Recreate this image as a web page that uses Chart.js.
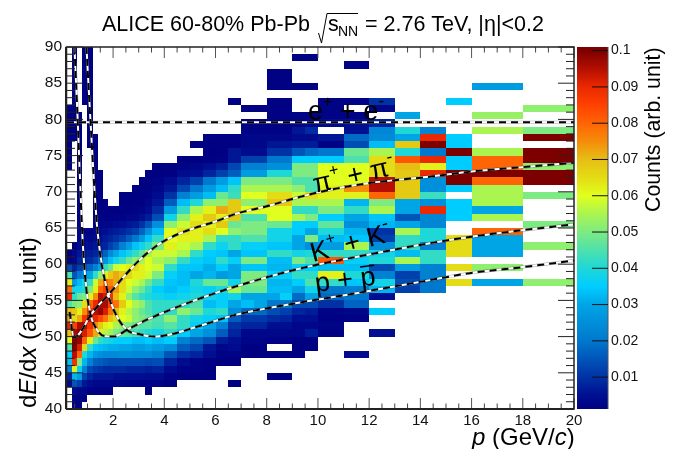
<!DOCTYPE html>
<html><head><meta charset="utf-8">
<style>html,body{margin:0;padding:0;background:#fff}canvas{display:block}</style>
<script src="https://cdn.jsdelivr.net/npm/chart.js@4"></script>
</head><body><canvas id="c" width="684" height="449"></canvas>
<script>
// bin edges
const pEdges=[0.2,0.4,0.6,0.8,1,1.2,1.4,1.6,1.8,2,2.25,2.5,2.75,3,3.25,3.5,4,4.5,5,5.5,6,6.5,7,7.5,8,8.5,9,9.5,10,11,12,13,14,15,16,18,20];
const rowTop=89; // first row spans 89-90, then downward to 40-41
// counts in units of 0.001, one list per dE/dx row, 36 momentum bins, 0 = empty
const rows=[
/*89*/[0,1,0,1,1,0,0,0,0,0,0,0,0,0,0,0,0,0,0,0,0,0,0,0,0,0,0,0,0,0,0,0,0,0,0,0],
/*88*/[0,1,0,1,1,0,0,0,0,0,0,0,0,0,0,0,0,0,0,0,0,0,0,0,0,0,1.5,1.5,0,0,0,0,0,0,0,0],
/*87*/[0,1,0,1,1,0,0,0,0,0,0,0,0,0,0,0,0,0,0,0,0,0,0,0,0,0,0,0,0,2,0,0,0,0,0,0],
/*86*/[0,1,0,1,1,0,0,0,0,0,0,0,0,0,0,0,0,0,0,0,0,0,0,0,1.5,1.5,0,0,0,0,0,0,0,0,0,0],
/*85*/[0,1,0,1,1,0,0,0,0,0,0,0,0,0,0,0,0,0,0,0,0,0,0,0,1.5,1.5,0,0,0,0,0,0,0,0,0,0],
/*84*/[0,1,0,1,1,0,0,0,0,0,0,0,0,0,0,0,0,0,0,0,0,0,0,0,1.5,1.5,1.5,1.5,0,0,0,0,0,0,28,0],
/*83*/[0,1,0,1,1,0,0,0,0,0,0,0,0,0,0,0,0,0,0,0,0,0,0,0,0,0,0,0,0,0,0,0,0,0,0,0],
/*82*/[0,1,0,1,1,0,0,0,0,0,0,0,0,0,0,0,0,0,0,0,0,1.5,0,0,1.5,1.5,0,0,2,2,10,0,0,35,0,0],
/*81*/[1,1,0,0,1,0,0,0,0,0,0,0,0,0,0,0,0,0,0,0,0,0,1.5,1.5,1.5,1.5,0,0,2,0,3,0,0,0,0,52],
/*80*/[1,1,1,0,1,0,0,0,0,0,0,0,0,0,0,0,0,0,0,0,0,0,0,0,1.5,1.5,2,2,2,2,0,30,0,0,53,0],
/*79*/[1,1,1,0,1,0,0,0,0,0,0,0,0,0,0,0,0,0,0,0,0,0,1.5,1.5,1.5,1.5,2,3,4,5,8,0,0,0,0,0],
/*78*/[1,1,1,0,1,0,0,0,0,0,0,0,0,0,0,0,0,0,0,0,0,0,2,2,2,2,6,9,0,5,23,40,23,0,55,50],
/*77*/[1,1,1,0,1,1,0,0,0,0,0,0,0,0,0,0,0,0,0,2,1.5,1.5,3,3,3,3,4,4,6,18,24,30,90,35,0,100],
/*76*/[1,0,1,0,1,1,0,0,0,0,0,0,0,0,0,0,0,0,1.5,1.5,1.5,1.5,3,3,6,6,7,7,2,14,33,68,100,35,0,0],
/*75*/[1,0,1,0,0,1,0,0,0,0,0,0,0,0,0,0,0,0,0,1,1.5,6,4,4,10,10,15,18,20,48,55,40,20,100,55,100],
/*74*/[1,0,1,0,0,1,0,0,0,0,0,0,0,0,0,0,0,1,1,1.5,2,6,12,12,20,20,35,35,35,45,65,82,90,35,80,100],
/*73*/[1,0,1,0,0,1,0,0,0,0,0,0,0,0,0,1,1.5,2,3,5,7,13,22,22,25,25,50,50,60,60,65,70,62,35,80,52],
/*72*/[0,0,1,0,0,1,1,0,0,0,0,0,0,0,1,1,1.5,4,5,8,12,16,28,28,40,40,50,50,60,60,65,68,90,100,100,100],
/*71*/[0,0,1,0,0,1,1,0,0,0,0,0,0,1,1.5,2,4,8,12,20,28,34,50,50,50,50,45,45,60,60,95,68,25,100,80,100],
/*70*/[0,0,1,0,0,1,1,0,0,0,0,0,1,1,1.5,3,6,13,20,28,33,42,55,55,55,55,52,45,62,75,95,68,25,35,55,0],
/*69*/[0,0,1,0,0,1,1,0,0,0,1,1,1,1.5,2,4,10,22,28,33,48,43,60,60,65,65,58,65,62,62,80,68,43,0,55,50],
/*68*/[0,0,1,0,0,1,1,1,0,0,1,1,1.5,1.5,3,6,16,33,40,52,52,68,52,52,68,68,55,55,55,32,50,30,25,35,55,0],
/*67*/[0,0,1,0,0,1,1,1,1,1,1.5,1.5,2,2.5,4,9,28,42,55,62,72,68,60,60,60,60,42,42,50,42,55,30,90,35,30,0],
/*66*/[0,0,1.5,0,0,1.5,2,1.5,1.5,2,2,3,3,5,7,14,38,52,62,68,62,68,45,45,60,60,55,50,35,30,34,15,23,35,55,0],
/*65*/[0,0,2.5,0,0,2,3,3,3,4,5,6,7,10,15,25,52,58,65,62,68,48,50,50,48,48,35,35,47,25,32,30,23,0,0,50],
/*64*/[0,0,3,2,2,3,4,5,6,7,8,10,12,17,25,33,60,64,62,65,60,52,50,50,38,38,35,30,40,32,10,55,40,0,80,0],
/*63*/[0,0,3,3,3,4,5,7,8,10,12,16,20,27,34,42,60,62,62,55,42,42,45,45,38,38,30,50,33,34,12,42,40,65,30,0],
/*62*/[0,1,4,5,5,6,7,8,12,15,22,28,34,38,42,50,62,58,55,42,37,42,36,36,34,34,30,25,28,55,25,42,22,65,30,52],
/*61*/[1,3,6,6,7,8,12,17,24,30,34,38,42,47,55,58,58,55,42,35,34,30,34,34,42,42,38,40,42,42,38,33,42,65,30,0],
/*60*/[2,3,8,8,9,12,18,26,33,38,42,48,52,55,60,55,52,42,36,34,42,36,50,50,33,33,50,45,82,36,40,55,42,0,0,0],
/*59*/[14,8,12,14,17,22,30,42,48,58,60,62,65,62,60,58,42,34,34,31,35,30,34,34,32,32,36,35,33,33,14,28,22,65,52,0],
/*58*/[45,15,20,24,30,42,52,62,68,72,68,66,62,62,58,50,36,33,30,32,28,30,50,50,36,36,42,42,62,40,22,12,22,0,0,0],
/*57*/[62,28,33,38,42,58,72,80,76,72,65,60,58,55,48,42,34,33,40,48,48,38,50,50,32,32,35,45,42,34,38,14,20,65,30,52],
/*56*/[80,38,38,40,50,62,80,85,82,74,65,58,52,48,42,35,33,35,38,36,40,55,48,48,33,33,30,38,20,22,32,12,20,0,0,0],
/*55*/[90,42,48,50,62,75,95,92,88,70,62,52,46,42,40,38,36,38,40,38,36,38,30,30,30,36,18,30,18,20,5,0,0,0,0,0],
/*54*/[45,50,52,65,80,90,96,96,85,78,68,60,55,52,45,42,42,42,45,33,36,30,33,30,20,20,14,14,10,17,0,0,0,0,0,0],
/*53*/[70,68,62,75,88,95,98,92,78,70,62,56,52,48,45,42,42,52,48,40,42,25,18,18,14,12,8,7,2,3,35,0,0,0,0,0],
/*52*/[72,65,72,88,95,90,84,78,70,65,60,58,52,50,48,45,52,42,38,36,34,16,11,11,9,8,5,5,1.5,2,0,0,0,0,0,0],
/*51*/[90,85,96,96,88,75,68,62,60,55,52,50,48,46,46,44,46,42,36,30,22,10,8,8,5,5,3,3,2.5,0,0,0,0,0,0,0],
/*50*/[70,96,98,92,82,72,62,56,54,50,48,46,44,42,40,38,42,35,30,25,16,8,3,3,3,3,3,7,1.5,0,5,0,0,0,0,0],
/*49*/[60,100,98,80,62,48,42,40,38,36,35,35,33,33,35,33,35,22,18,15,7,5,2.5,2.5,2,2,1,1,0,0,0,0,0,0,0,0],
/*48*/[45,100,92,65,42,34,33,32,31,31,30,30,28,28,30,28,25,16,13,6,3,4,1,1,0,0,1,1,0,0,0,0,0,0,0,0],
/*47*/[35,95,80,40,32,27,25,24,24,24,25,25,24,24,24,22,15,10,8,5,2,2,1,1,1,1,1,0,0,4,0,0,0,0,0,0],
/*46*/[33,88,50,32,22,17,16,15,14,14,14,14,14,14,13,14,8,4,2,1.5,1,1,0,0,0,0,0,0,0,0,0,0,0,0,0,0],
/*45*/[22,62,36,22,13,11,10,9,9,9,9,8,8,8,7,8,4,2,2,1,0,0,0,0,0,0,0,0,0,0,0,0,0,0,0,0],
/*44*/[8,32,28,12,8,6,6,6,6,5,5,5,5,5,4,4,2,1,1,1,0,0,0,0,1,1,0,0,0,0,0,0,0,0,0,0],
/*43*/[4,15,12,6,4,3,3,3,3,3,3,2.5,2,2,2,2,1,0,0,0,0,1,0,0,0,0,0,0,0,0,0,0,0,0,0,0],
/*42*/[0,4,3,3,2,1.5,1.5,1,1,0,0,0,0,0,1,0,0,0,0,0,0,0,0,0,0,0,0,0,0,0,0,0,0,0,0,0],
/*41*/[0,2,2,1.5,0,0,0,0,0,0,0,0,0,0,0,0,0,0,0,0,0,0,0,0,0,0,0,0,0,0,0,0,0,0,0,0],
/*40*/[0,1.5,1.5,0,0,0,0,0,0,0,0,0,0,0,0,0,0,0,0,0,0,0,0,0,0,0,0,0,0,0,0,0,0,0,0,0]
];
// Bethe-Bloch style guide curves
const electronP=[0.2,20];
const electronY=[79.6,79.6];
const pionP=[0.3,0.47,0.6,0.8,1.07,1.4,1.8,2.4,3.1,3.8,4.5,5.1,6,6.83,8,9.3,10.5,12,14.4,16,18,20];
const pionY=[53.4,49.9,50.1,51,52.7,54.2,55.7,58.2,60.8,62.8,64.1,64.9,65.9,67,68,69.3,70.3,71.2,72.1,72.8,73.4,74];
const kaonP=[0.49,0.62,0.79,0.92,1.11,1.31,1.63,2.02,2.57,3.3,4.23,5.5,6.77,9.3,11.5,14.37,16,18,20];
const kaonY=[90,79.7,64.7,57.8,53.2,51.3,50.1,50,51,52.3,53.7,55.4,56.9,59.4,61,62.9,63.8,64.7,65.5];
const protonP=[0.96,1.12,1.38,1.77,2.09,2.55,3.07,3.6,4.23,5.5,6.77,9.3,11.5,14.37,16,18,20];
const protonY=[90,79.6,65,56.4,53.2,50.9,50.3,50,50.3,51.6,53,54.7,56,57.8,58.8,59.6,60.5];
const xTicks=[2,4,6,8,10,12,14,16,18,20];
const yTicks=[40,45,50,55,60,65,70,75,80,85,90];
const zTicks=[0.01,0.02,0.03,0.04,0.05,0.06,0.07,0.08,0.09,0.1];
const stopV=[1.2,5,10,20,30,35,40,50,55,60,65,70,75,80,85,90,95,100];
const stopC=[[0,0,130],[0,15,145],[0,50,165],[0,120,205],[0,165,230],[0,205,255],[30,215,215],[125,235,130],[170,245,80],[225,255,30],[228,220,20],[230,190,20],[245,140,10],[255,100,5],[255,65,0],[235,40,0],[180,15,0],[125,0,0]];

function colourOf(v){
  if(v<=stopV[0])return `rgb(${stopC[0]})`;
  for(let i=1;i<stopV.length;i++){
    if(v<=stopV[i]){
      const t=(v-stopV[i-1])/(stopV[i]-stopV[i-1]);
      const a=stopC[i-1],b=stopC[i];
      return `rgb(${a.map((c,k)=>Math.round(c+(b[k]-c)*t)).join(',')})`;
    }
  }
  return `rgb(${stopC[stopC.length-1]})`;
}
const cells=[];
rows.forEach((r,ri)=>r.forEach((v,ci)=>{
  if(v>0)cells.push({x:pEdges[ci],x2:pEdges[ci+1],y:rowTop-ri,v});
}));
function zip(px,py){return px.map((x,i)=>({x,y:py[i]}));}
const curves=[[electronP,electronY],[pionP,pionY],[kaonP,kaonY],[protonP,protonY]];
const datasets=[{label:'Counts',data:cells,pointRadius:0,showLine:false,order:10}];
curves.forEach(([p,y])=>{
  const base={type:'line',data:zip(p,y),pointRadius:0,fill:false,cubicInterpolationMode:'monotone'};
  datasets.push({...base,label:'top',borderColor:'#000',borderWidth:2,borderDash:[7,5],order:1});
  datasets.push({...base,label:'mid',borderColor:'#fff',borderWidth:2,order:2});
  datasets.push({...base,label:'halo',borderColor:'rgba(0,0,0,0.35)',borderWidth:3,order:3});
});
const SANS='"Liberation Sans"';
function runs(ctx,x,y,angle,list){
  ctx.save();ctx.translate(x,y);ctx.rotate(angle*Math.PI/180);
  ctx.textBaseline='alphabetic';ctx.textAlign='left';ctx.fillStyle='#000';
  let cx=0;
  list.forEach(r=>{
    ctx.font=`${r.it?'italic ':''}${r.s}px ${SANS}`;
    ctx.fillText(r.t,cx,r.dy||0);
    const w=ctx.measureText(r.t).width;
    if(r.bar){ctx.lineWidth=1.4;ctx.strokeStyle='#000';ctx.beginPath();ctx.moveTo(cx+1,-r.s*0.72);ctx.lineTo(cx+w,-r.s*0.72);ctx.stroke();}
    cx+=w;
  });
  ctx.restore();
}
const heat={id:'heat',beforeDatasetsDraw(c){
  const {ctx,scales:{x,y,z},chartArea:a}=c;
  ctx.save();
  cells.forEach(k=>{
    const l=Math.round(x.getPixelForValue(k.x)),r=Math.round(x.getPixelForValue(k.x2));
    const t=Math.round(y.getPixelForValue(k.y+1)),b=Math.round(y.getPixelForValue(k.y));
    ctx.fillStyle=colourOf(k.v);ctx.fillRect(l,t,r-l,b-t);
  });
  // colour bar through the z scale
  const L=577,R=608;
  for(let p=Math.round(a.top);p<Math.round(a.bottom);p++){
    ctx.fillStyle=colourOf(z.getValueForPixel(p+0.5)*1000);ctx.fillRect(L,p,R-L,1);
  }
  ctx.restore();
},afterDatasetsDraw(c){
  const {ctx,scales:{x,y,z},chartArea:a}=c;
  ctx.save();
  ctx.strokeStyle='#222';ctx.lineWidth=1;
  const line=(x1,y1,x2,y2)=>{ctx.beginPath();ctx.moveTo(x1,y1);ctx.lineTo(x2,y2);ctx.stroke();};
  for(let i=1;i<=40;i++){
    const v=i*0.5,px=x.getPixelForValue(v),len=(i%4===0)?11:5.5;
    if(v<0.2)continue;
    ctx.strokeStyle=(i%4===0)?'#555':'#444';
    line(px,a.bottom,px,a.bottom-len);line(px,a.top,px,a.top+len);
  }
  ctx.strokeStyle='#222';
  for(let v=40;v<=90;v++){
    const py=y.getPixelForValue(v),len=(v%5===0)?16:8;
    line(a.left,py,a.left+len,py);line(a.right,py,a.right-len,py);
  }
  // frame
  ctx.lineWidth=1.5;ctx.strokeStyle='#222';
  ctx.strokeRect(a.left-0.5,a.top,a.right-a.left+0.5,a.bottom-a.top);
  ctx.lineWidth=2;line(a.left-1,a.bottom,a.right,a.bottom);line(a.left-1,a.top,a.left-1,a.bottom);
  // colour bar ticks
  ctx.lineWidth=1;ctx.strokeStyle='#555';line(608,a.top,608,a.bottom);
  ctx.strokeStyle='#111';
  zTicks.forEach(v=>{const py=z.getPixelForValue(v);line(592,py,608,py);});
  ctx.restore();
  // title
  runs(ctx,102,31,0,[{t:'ALICE 60-80% Pb-Pb',s:21.5}]);
  ctx.save();ctx.strokeStyle='#000';ctx.lineWidth=1;
  ctx.beginPath();ctx.moveTo(318.5,33);ctx.lineTo(321.5,43);ctx.lineTo(327,13.5);ctx.lineTo(358,13.5);ctx.stroke();ctx.restore();
  runs(ctx,328,31,0,[{t:'s',s:21.5}]);
  runs(ctx,338,36,0,[{t:'NN',s:14}]);
  runs(ctx,365,31,0,[{t:'= 2.76 TeV, |η|<0.2',s:21.5}]);
  // axis titles
  runs(ctx,472,445,0,[{t:'p',s:24,it:1},{t:' (GeV/',s:24},{t:'c',s:24,it:1},{t:')',s:24}]);
  runs(ctx,36,408,-90,[{t:'d',s:24},{t:'E',s:24,it:1},{t:'/d',s:24},{t:'x',s:24,it:1},{t:' (arb. unit)',s:24}]);
  runs(ctx,660,212,-90,[{t:'Counts (arb. unit)',s:21.3}]);
  // species labels
  runs(ctx,308,120,0,[{t:'e',s:27},{t:'+',s:16,dy:-13},{t:' + ',s:27},{t:'e',s:27},{t:'-',s:18,dy:-13}]);
  runs(ctx,315,193,-13,[{t:'π',s:27},{t:'+',s:16,dy:-13},{t:' + ',s:27},{t:'π',s:27},{t:'-',s:18,dy:-13}]);
  runs(ctx,313,262,-15,[{t:'K',s:27},{t:'+',s:16,dy:-13},{t:' + ',s:27},{t:'K',s:27},{t:'-',s:18,dy:-13}]);
  runs(ctx,316,292,-7,[{t:'p + ',s:27},{t:'p',s:27,bar:1}]);
}};
// the z scale's large label offset must not pad the plot area
function noPad(s){s.paddingTop=0;s.paddingBottom=0;s.paddingLeft=0;s.paddingRight=0;}
new Chart(document.getElementById('c'),{
  type:'scatter',
  data:{datasets},
  plugins:[heat],
  options:{
    responsive:false,animation:false,
    layout:{padding:{top:47,left:0,right:0,bottom:0}},
    plugins:{legend:{display:false},tooltip:{enabled:false},title:{display:false}},
    scales:{
      x:{type:'linear',min:0.2,max:20,position:'bottom',
        afterFit(s){s.height=40;noPad(s);},
        afterBuildTicks(s){s.ticks=xTicks.map(value=>({value}));},
        grid:{display:false,drawTicks:false},border:{display:false},
        ticks:{color:'#111',padding:3,maxRotation:0,autoSkip:false,font:{family:SANS,size:15}}},
      y:{type:'linear',min:40,max:90,position:'left',
        afterFit(s){s.width=67;noPad(s);},
        afterBuildTicks(s){s.ticks=yTicks.map(value=>({value}));},
        grid:{display:false,drawTicks:false},border:{display:false},
        ticks:{color:'#111',padding:5,autoSkip:false,font:{family:SANS,size:15.5}}},
      z:{type:'linear',min:0.00122,max:0.101,position:'right',
        afterFit(s){s.width=110;noPad(s);},
        afterBuildTicks(s){s.ticks=zTicks.map(value=>({value}));},
        grid:{display:false,drawTicks:false},border:{display:false},
        ticks:{color:'#111',padding:37,autoSkip:false,font:{family:SANS,size:14},callback:v=>String(+v.toFixed(2))}}
    }
  }
});
</script></body></html>
